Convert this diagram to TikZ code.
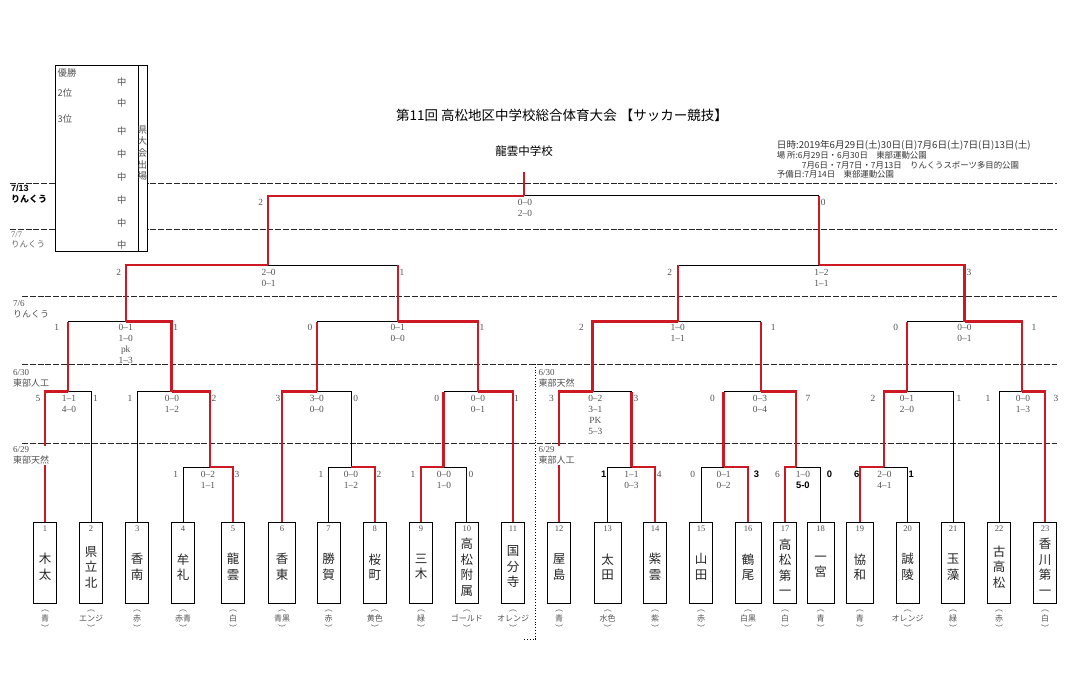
\documentclass[tikz,border=0pt]{standalone}
\usepackage{fontspec}
\setmainfont{Liberation Serif}
\newfontfamily\cjk{Noto Sans CJK JP}
\newfontfamily\sansb{Liberation Sans}
\newcommand\bsf{\sansb\bfseries\color{black}}
\definecolor{rd}{RGB}{205,25,35}
\definecolor{tx}{gray}{0.32}
\definecolor{nmc}{gray}{0.15}
\begin{document}
\begin{tikzpicture}[x=1pt,y=-1pt,
  bl/.style={draw=black,line width=0.8pt},
  rl/.style={draw=rd,line width=2.3pt},
  dl/.style={draw=black!85,line width=0.8pt,dash pattern=on 6pt off 1.8pt},
  team/.style={draw,line width=0.9pt,minimum height=80.3pt,inner sep=0pt,fill=white},
  sc/.style={font=\fontsize{9.4}{11}\selectfont,text=tx,inner sep=0pt,align=center,anchor=north},
  num/.style={font=\fontsize{8.5}{10}\selectfont,text=tx,inner sep=0pt},
  nm/.style={font=\cjk\fontsize{12.5}{15.5}\selectfont,text=nmc,inner sep=0pt,align=center},
  lab/.style={font=\cjk\fontsize{8}{10}\selectfont,text=tx,inner sep=0pt,align=center},
  dt/.style={font=\fontsize{9}{11}\selectfont,text=tx,inner sep=1pt,align=left,anchor=north west},
  info/.style={font=\cjk\fontsize{8.4}{10}\selectfont,text=black!80,inner sep=0pt,anchor=west},
  rk/.style={font=\cjk\fontsize{9.3}{10}\selectfont,text=tx,inner sep=0pt}
]
\useasboundingbox[fill=white] (0,0) rectangle (1075,695);

% dashed day lines
\draw[dl] (10,183) -- (1057,183);
\draw[dl] (10,229) -- (1057,229);
\draw[dl] (22,296) -- (1057,296);
\draw[dl] (22,364) -- (1057,364);
\draw[dl] (22,443.5) -- (1057,443.5);
\draw[line width=0.8pt,dotted] (535.5,364) -- (535.5,639) -- (524,639);

% ranking box
\node[draw,line width=0.9pt,fill=white,minimum width=92pt,minimum height=186pt,anchor=north west,inner sep=0pt] (rank) at (55,65) {};
\draw[line width=0.9pt] ([xshift=-9.5pt]rank.north east) -- ([xshift=-9.5pt]rank.south east);
\node[rk,anchor=west] (r1) at (57.5,72.7) {優勝};
\node[rk,anchor=west] (r2) at (57.5,93.3) {2位};
\node[rk,anchor=west] (r3) at (57.5,119.3) {3位};
\foreach \yy [count=\k] in {81.7,102.7,131,154,176.7,200,222.7,245}
  \node[rk] (ch\k) at (121.7,\yy) {中};
\node[rk,align=center,font=\cjk\fontsize{9.5}{11.6}\selectfont] (ken) at (142.3,153) {県\\大\\会\\出\\場};

% title and info
\node[font=\cjk\fontsize{13.5}{16}\selectfont,inner sep=0pt] (title) at (562,115) {第11回 高松地区中学校総合体育大会 【サッカー競技】};
\node[font=\cjk\fontsize{11.5}{14}\selectfont,inner sep=0pt] (champ) at (524,150.7) {龍雲中学校};
\node[info,font=\cjk\fontsize{9.6}{10}\selectfont] (i1) at (776.7,145) {日時:2019年6月29日(土)30日(日)7月6日(土)7日(日)13日(土)};
\node[info] (i2) at (776.7,155) {場 所:6月29日・6月30日　東部運動公園};
\node[info] (i3) at (801.7,165) {7月6日・7月7日・7月13日　りんくうスポーツ多目的公園};
\node[info] (i4) at (776.7,174.5) {予備日:7月14日　東部運動公園};

% team boxes
\foreach \i/\x/\w/\nmx/\cl in {
1/45/23.4/{木\\太}/青,
2/91/23.4/{県\\立\\北}/エンジ,
3/137.2/23.4/{香\\南}/赤,
4/183/23.1/{牟\\礼}/赤青,
5/233/23.4/{龍\\雲}/白,
6/282/27.2/{香\\東}/青黒,
7/328.5/23.1/{勝\\賀}/赤,
8/374.8/23.1/{桜\\町}/黄色,
9/421/23.1/{三\\木}/緑,
10/466.8/23.5/{高\\松\\附\\属}/ゴールド,
11/513/23/{国\\分\\寺}/オレンジ,
12/559/23.3/{屋\\島}/青,
13/607.5/27.1/{太\\田}/水色,
14/655/22.6/{紫\\雲}/紫,
15/701/23/{山\\田}/赤,
16/748/26.1/{鶴\\尾}/白黒,
17/785/22.9/{高\\松\\第\\一}/白,
18/820.5/27.1/{一\\宮}/青,
19/859.8/26.4/{協\\和}/青,
20/907.5/23/{誠\\陵}/オレンジ,
21/953.2/23.3/{玉\\藻}/緑,
22/999.2/23.3/{古\\高\\松}/赤,
23/1045/23/{香\\川\\第\\一}/白}{
  \node[team,minimum width=\w pt] (b\i) at (\x,562.85) {};
  \node[num] (n\i) at (\x,529) {\i};
  \node[nm] (nm\i) at (\x,567) {\nmx};
  \node[lab] (c\i) at (\x,621) {︵\\\cl\\︶};
}

% match junctions
\coordinate (m45) at (210,467);
\coordinate (m78) at (351,467);
\coordinate (m910) at (443.6,467);
\coordinate (m1314) at (631.5,467);
\coordinate (m1516) at (723.6,467);
\coordinate (m1718) at (795.9,467);
\coordinate (m1920) at (883.8,467);
\coordinate (mA) at (68.2,391.5);
\coordinate (mB) at (171.5,391.5);
\coordinate (mC) at (316.8,391.5);
\coordinate (mD) at (478,391.5);
\coordinate (mE) at (592.6,391.5);
\coordinate (mF) at (761.1,391.5);
\coordinate (mG) at (907.1,391.5);
\coordinate (mH) at (1021.8,391.5);
\coordinate (mAB) at (125.7,321.5);
\coordinate (mCD) at (397.7,321.5);
\coordinate (mEF) at (677.7,321.5);
\coordinate (mGH) at (964.5,321.5);
\coordinate (mL) at (267.9,265.3);
\coordinate (mR) at (819,265.3);
\coordinate (fin) at (524,195.7);
\coordinate (ctop) at (524,172.5);

% black (losing) paths
\foreach \c/\m in {b4.north/m45,b7.north/m78,b10.north/m910,b13.north/m1314,
  b15.north/m1516,b18.north/m1718,b20.north/m1920,b2.north/mA,b3.north/mB,
  m78/mC,b21.north/mG,b22.north/mH}
  \draw[bl] (\c) |- (\m);
% losers whose way up is red, losing horizontal black
\foreach \c/\m in {m910/mD,m1314/mE,m1516/mF,mA/mAB,mC/mCD,mF/mEF,mG/mGH,
  mCD/mL,mEF/mR,mR/fin}{
  \draw[bl] (\c |- \m) -- (\m);
  \draw[rl] (\c) -- (\c |- \m);
}
% winning paths
\foreach \c/\m in {b5.north/m45,b8.north/m78,b9.north/m910,b14.north/m1314,
  b16.north/m1516,b17.north/m1718,b19.north/m1920,b1.north/mA,m45/mB,
  b6.north/mC,b11.north/mD,b12.north/mE,m1718/mF,m1920/mG,b23.north/mH,
  mB/mAB,mD/mCD,mE/mEF,mH/mGH,mAB/mL,mGH/mR,mL/fin}
  \draw[rl] (\c) |- (\m);
\draw[rl] (fin) -- (ctop);

% day labels
\node[dt,font=\bfseries\fontsize{9}{11}\selectfont,text=black] (d1) at (10,183.8) {\sansb 7/13\\\cjk りんくう};
\node[dt,font=\fontsize{8.5}{10}\selectfont,text=black!60] (d2) at (10,230.5) {7/7\\\cjk りんくう};
\node[dt] (d3) at (12,299) {7/6\\\cjk りんくう};
\node[dt] (d4) at (12,368) {6/30\\\cjk 東部人工};
\node[dt,fill=white] (d5) at (12,445.5) {6/29\\\cjk 東部天然};
\node[dt] (d6) at (537.5,368.5) {6/30\\\cjk 東部天然};
\node[dt,fill=white] (d7) at (537.5,445.5) {6/29\\\cjk 東部人工};

% scores
\foreach \x/\y/\t [count=\k] in {
175.6/474/1, 208/474/{0–2\\1–1}, 237/474/3,
321/474/1, 351/474/{0–0\\1–2}, 379/474/2,
413/474/1, 444/474/{0–0\\1–0}, 471/474/0,
603.7/474/{\bsf 1}, 631.5/474/{1–1\\0–3}, 659.3/474/4,
692.7/474/0, 723.6/474/{0–1\\0–2}, 756.6/474/{\bsf 3},
777.5/474/6, 802.9/474/{1–0\\{\bsf 5-0}}, 829.6/474/{\bsf 0},
856.7/474/{\bsf 6}, 884.5/474/{2–0\\4–1}, 911.3/474/{\bsf 1},
37.9/398/5, 68.9/398/{1–1\\4–0}, 95.4/398/1,
130/398/1, 172/398/{0–0\\1–2}, 214/398/2,
278/398/3, 316.8/398/{3–0\\0–0}, 355.7/398/0,
436.6/398/0, 478/398/{0–0\\0–1}, 516.5/398/1,
551.5/398/3, 595.3/398/{0–2\\3–1\\PK\\5–3}, 636/398/3,
712.5/398/0, 760/398/{0–3\\0–4}, 808/398/7,
873/398/2, 907/398/{0–1\\2–0}, 959/398/1,
988/398/1, 1023/398/{0–0\\1–3}, 1056/398/3,
56.8/327/1, 125.7/327/{0–1\\1–0\\pk\\1–3}, 175.6/327/1,
310/327/0, 397.7/327/{0–1\\0–0}, 482/327/1,
581.4/327/2, 677.7/327/{1–0\\1–1}, 773.3/327/1,
895.6/327/0, 964.5/327/{0–0\\0–1}, 1034/327/1,
118.8/272.6/2, 268.6/272.6/{2–0\\0–1}, 402/272.6/1,
669.6/272.6/2, 821.5/272.6/{1–2\\1–1}, 969/272.6/3,
260.7/202.7/2, 525/202.7/{0–0\\2–0}, 823.2/202.7/0}
  \node[sc] (s\k) at (\x,\y-3.2) {\t};
\end{tikzpicture}
\end{document}
